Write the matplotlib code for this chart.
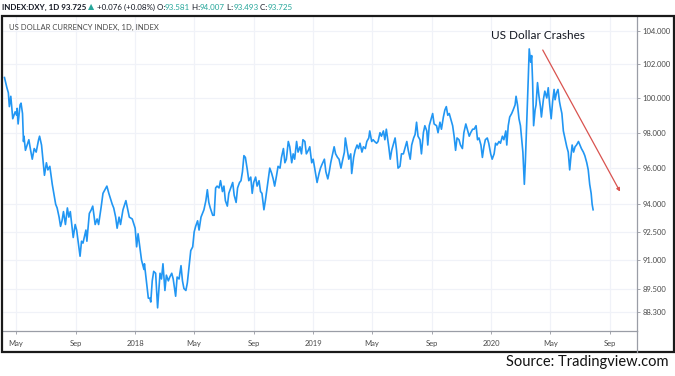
import matplotlib
matplotlib.use("Agg")
import matplotlib.pyplot as plt
import matplotlib.dates as mdates
from matplotlib.patches import Rectangle
import pandas as pd

# DXY daily closes (roughly every few sessions)
dates = [
    "2017-04-08", "2017-04-13", "2017-04-16", "2017-04-18", "2017-04-21", "2017-04-25", "2017-04-30",
    "2017-05-03", "2017-05-04", "2017-05-06", "2017-05-10", "2017-05-12", "2017-05-15", "2017-05-17",
    "2017-05-18", "2017-05-21", "2017-05-28", "2017-05-31", "2017-06-04", "2017-06-08", "2017-06-12",
    "2017-06-17", "2017-06-19", "2017-06-23", "2017-06-29", "2017-07-03", "2017-07-06", "2017-07-10",
    "2017-07-12", "2017-07-15", "2017-07-22", "2017-07-25", "2017-07-29", "2017-08-01", "2017-08-04",
    "2017-08-07", "2017-08-11", "2017-08-15", "2017-08-18", "2017-08-21", "2017-08-24", "2017-08-27",
    "2017-08-31", "2017-09-03", "2017-09-07", "2017-09-10", "2017-09-13", "2017-09-16", "2017-09-22",
    "2017-09-24", "2017-09-29", "2017-10-03", "2017-10-06", "2017-10-11", "2017-10-15", "2017-10-18",
    "2017-10-23", "2017-10-27", "2017-11-02", "2017-11-04", "2017-11-08", "2017-11-15", "2017-11-18",
    "2017-11-22", "2017-11-25", "2017-11-29", "2017-12-02", "2017-12-07", "2017-12-13", "2017-12-20",
    "2017-12-26", "2018-01-01", "2018-01-04", "2018-01-07", "2018-01-14", "2018-01-19", "2018-01-20",
    "2018-01-25", "2018-01-28",
    "2018-01-31", "2018-02-02", "2018-02-05", "2018-02-08", "2018-02-12", "2018-02-16", "2018-02-21",
    "2018-02-24", "2018-02-27", "2018-03-03", "2018-03-06", "2018-03-10", "2018-03-13", "2018-03-17",
    "2018-03-20", "2018-03-25", "2018-03-28", "2018-04-01", "2018-04-05", "2018-04-08", "2018-04-11",
    "2018-04-15", "2018-04-18", "2018-04-22", "2018-04-25", "2018-04-29", "2018-05-02", "2018-05-05",
    "2018-05-09", "2018-05-12", "2018-05-16", "2018-05-19", "2018-05-22", "2018-05-26", "2018-05-29",
    "2018-06-01", "2018-06-04", "2018-06-09", "2018-06-12", "2018-06-15", "2018-06-18", "2018-06-22",
    "2018-06-25", "2018-06-29", "2018-07-02", "2018-07-05", "2018-07-09", "2018-07-12", "2018-07-16",
    "2018-07-20", "2018-07-23", "2018-07-27", "2018-07-30", "2018-08-03", "2018-08-06", "2018-08-09",
    "2018-08-12", "2018-08-15", "2018-08-19", "2018-08-22", "2018-08-26", "2018-08-29", "2018-09-01",
    "2018-09-05", "2018-09-08", "2018-09-12", "2018-09-15", "2018-09-18", "2018-09-22", "2018-09-25",
    "2018-09-29", "2018-10-04", "2018-10-08", "2018-10-11", "2018-10-14", "2018-10-18", "2018-10-21",
    "2018-10-25", "2018-10-28", "2018-11-01", "2018-11-04", "2018-11-07", "2018-11-11", "2018-11-14",
    "2018-11-18", "2018-11-21", "2018-11-24",
    "2018-11-28", "2018-12-01", "2018-12-05", "2018-12-08", "2018-12-11", "2018-12-15", "2018-12-18",
    "2018-12-22", "2018-12-25", "2018-12-29", "2019-01-01", "2019-01-04", "2019-01-09", "2019-01-13",
    "2019-01-16", "2019-01-19", "2019-01-24", "2019-01-27", "2019-01-31", "2019-02-03", "2019-02-06",
    "2019-02-10", "2019-02-13", "2019-02-16", "2019-02-20", "2019-02-23", "2019-02-27", "2019-03-02",
    "2019-03-06", "2019-03-08", "2019-03-12", "2019-03-15", "2019-03-19", "2019-03-21", "2019-03-25",
    "2019-03-28", "2019-04-01", "2019-04-04", "2019-04-07", "2019-04-11", "2019-04-14", "2019-04-18",
    "2019-04-21", "2019-04-25", "2019-04-27", "2019-05-01", "2019-05-04", "2019-05-07", "2019-05-11",
    "2019-05-14", "2019-05-18", "2019-05-21", "2019-05-25", "2019-05-28", "2019-05-31", "2019-06-05",
    "2019-06-08", "2019-06-11", "2019-06-15", "2019-06-18", "2019-06-21", "2019-06-24", "2019-06-28",
    "2019-07-01", "2019-07-05", "2019-07-08", "2019-07-12", "2019-07-15", "2019-07-19", "2019-07-22",
    "2019-07-26", "2019-07-29", "2019-08-01", "2019-08-04", "2019-08-08", "2019-08-11", "2019-08-15",
    "2019-08-18", "2019-08-22", "2019-08-24", "2019-08-27", "2019-08-31", "2019-09-03", "2019-09-06",
    "2019-09-11", "2019-09-14", "2019-09-18", "2019-09-21", "2019-09-25", "2019-09-28", "2019-10-01",
    "2019-10-04", "2019-10-07", "2019-10-10", "2019-10-14", "2019-10-17", "2019-10-20", "2019-10-23",
    "2019-10-27", "2019-10-30", "2019-11-03", "2019-11-06", "2019-11-10", "2019-11-14", "2019-11-17",
    "2019-11-20", "2019-11-24", "2019-11-27", "2019-12-01", "2019-12-04", "2019-12-07", "2019-12-11",
    "2019-12-14", "2019-12-17", "2019-12-20", "2019-12-24", "2019-12-27", "2019-12-31", "2020-01-03",
    "2020-01-07", "2020-01-10", "2020-01-13", "2020-01-17", "2020-01-20", "2020-01-24", "2020-01-27",
    "2020-01-31", "2020-02-02", "2020-02-05", "2020-02-08", "2020-02-12", "2020-02-15", "2020-02-19",
    "2020-02-21", "2020-02-24", "2020-02-27", "2020-03-01", "2020-03-03", "2020-03-06", "2020-03-09",
    "2020-03-11", "2020-03-14", "2020-03-17", "2020-03-19", "2020-03-22", "2020-03-24", "2020-03-26",
    "2020-03-28", "2020-03-31", "2020-04-02", "2020-04-05", "2020-04-08", "2020-04-11", "2020-04-13",
    "2020-04-17", "2020-04-20", "2020-04-24", "2020-04-27", "2020-04-30", "2020-05-03", "2020-05-06",
    "2020-05-09", "2020-05-11", "2020-05-14", "2020-05-17", "2020-05-20", "2020-05-22", "2020-05-25",
    "2020-05-28", "2020-05-31", "2020-06-04", "2020-06-07", "2020-06-10", "2020-06-12", "2020-06-15",
    "2020-06-18", "2020-06-21", "2020-06-24", "2020-06-28", "2020-07-01", "2020-07-04", "2020-07-08",
    "2020-07-11", "2020-07-15", "2020-07-18", "2020-07-21", "2020-07-24", "2020-07-26", "2020-07-28",
]
values = [
    101.2, 100.6, 100.3, 99.5, 100.1, 98.8, 99.2,
    99.0, 99.4, 98.5, 99.6, 99.7, 99.1, 97.5,
    97.8, 97.0, 97.6, 97.1, 96.5, 97.1, 96.9,
    97.6, 97.8, 97.3, 95.6, 96.3, 95.9, 96.1,
    95.7, 95.1, 94.0, 93.8, 93.3, 92.8, 93.1,
    93.6, 92.9, 93.8, 93.3, 93.6, 92.9, 92.2,
    92.9, 92.6, 91.8, 91.2, 92.0, 91.9, 92.6,
    92.0, 93.5, 93.7, 93.9, 92.9, 93.2, 92.9,
    93.8, 94.6, 94.9, 95.0, 94.6, 94.0, 93.8,
    93.3, 92.7, 93.3, 92.9, 93.7, 94.2, 93.3,
    93.2, 92.7, 91.7, 92.4, 91.0, 90.5, 90.8,
    89.7, 89.0,
    89.0, 88.8, 89.9, 90.4, 90.3, 88.5, 90.3,
    90.0, 90.8, 89.4, 90.2, 89.9, 90.1, 90.3,
    90.0, 89.1, 90.1, 90.0, 90.7, 89.9, 89.5,
    89.4, 89.8, 90.8, 91.5, 91.7, 92.5, 92.8,
    93.1, 92.6, 93.3, 93.5, 93.7, 94.2, 94.8,
    94.1, 93.8, 93.4, 93.4, 94.9, 95.0, 94.9,
    95.3, 94.7, 95.0, 94.2, 93.9, 94.6, 94.9,
    95.2, 94.5, 94.1, 94.9, 95.2, 95.3, 95.8,
    96.7, 96.6, 95.9, 95.3, 95.5, 94.6, 95.2,
    95.5, 95.0, 95.3, 94.7, 94.6, 93.7, 94.2,
    95.0, 96.0, 95.7, 95.4, 95.0, 95.6, 96.1,
    96.0, 96.6, 97.1, 96.3, 96.5, 97.5, 97.2,
    96.3, 96.8, 96.5,
    97.5, 96.9, 97.2, 96.8, 97.6, 97.5, 96.8,
    97.0, 97.2, 96.3, 96.5, 96.0, 95.2, 95.7,
    96.0, 96.2, 96.5, 95.8, 95.4, 95.8, 96.3,
    96.8, 97.2, 96.8, 96.6, 96.5, 96.0, 96.4,
    96.9, 97.7, 97.0, 96.5, 96.8, 95.7, 96.6,
    97.0, 97.3, 97.1, 97.4, 96.9, 97.2, 97.1,
    97.5, 97.7, 98.1, 97.5, 97.6, 97.5, 97.4,
    97.5, 98.0, 97.8, 98.1, 97.6, 98.2, 97.2,
    96.5, 97.0, 97.4, 97.7, 97.0, 96.0, 96.1,
    96.8, 96.8, 97.1, 97.5, 97.0, 96.5, 97.3,
    97.7, 97.9, 98.6, 97.8, 97.6, 96.8, 98.0,
    98.4, 98.1, 97.3, 98.4, 98.8, 99.1, 98.5,
    98.4, 98.0, 98.6, 98.2, 98.9, 99.3, 99.5,
    99.0, 99.1, 98.8, 98.4, 97.8, 97.0, 97.7,
    97.6, 97.3, 97.1, 98.0, 98.5, 98.1, 97.8,
    98.0, 98.2, 98.2, 98.4, 97.6, 97.7, 97.3,
    96.6, 97.2, 97.6, 97.7, 97.4, 96.8, 96.5,
    96.8, 97.4, 97.3, 97.5, 97.4, 97.8, 97.6,
    98.1, 97.3, 98.4, 98.9, 99.1, 99.3, 99.6,
    100.1, 99.6, 98.8, 98.4, 97.8, 96.9, 95.1,
    96.3, 98.6, 101.1, 102.9, 102.1, 102.5, 100.9,
    98.4, 99.3, 99.6, 100.9, 100.1, 99.5, 98.9,
    99.9, 100.4, 100.0, 100.6, 99.6, 98.8, 99.8,
    100.5, 99.9, 100.3, 100.5, 99.8, 99.5, 99.1,
    98.1, 97.7, 97.2, 96.9, 95.9, 96.5, 97.3,
    96.9, 97.2, 97.3, 97.5, 97.3, 97.1, 96.9,
    96.7, 96.3, 95.9, 95.1, 94.6, 94.0, 93.7,
]

y_ticks = [88.3, 89.5, 91.0, 92.5, 94.0, 96.0, 98.0, 100.0, 102.0, 104.0]
x_ticks = ["2017-05-01", "2017-09-01", "2018-01-01", "2018-05-01", "2018-09-01", "2019-01-01",
           "2019-05-01", "2019-09-01", "2020-01-01", "2020-05-01", "2020-09-01"]
x_labels = ["May", "Sep", "2018", "May", "Sep", "2019", "May", "Sep", "2020", "May", "Sep"]

header_parts = [
    ("INDEX:DXY, 1D 93.725 ", "#131722"),
    ("\u25b2", "#26a69a"),
    (" +0.076 (+0.08%) O:", "#131722"),
    ("93.581", "#26a69a"),
    (" H:", "#131722"),
    ("94.007", "#26a69a"),
    (" L:", "#131722"),
    ("93.493", "#26a69a"),
    (" C:", "#131722"),
    ("93.725", "#26a69a"),
]

W, H = 675, 376
plt.rcParams["font.family"] = ["Lato", "DejaVu Sans"]
fig = plt.figure(figsize=(W / 100, H / 100), dpi=100)
fig.patch.set_facecolor("white")

ax = fig.add_axes([3 / W, (H - 330.7) / H, (637 - 3) / W, (330.7 - 16) / H])
x = pd.to_datetime(dates)
ax.plot(x, values, color="#2196f3", linewidth=1.2, solid_joinstyle="round")

ax.set_yscale("log")
ax.set_ylim(87.33, 104.89)
ax.set_xlim(pd.Timestamp("2017-04-05"), pd.Timestamp("2020-10-26"))

ax.yaxis.tick_right()
ax.set_yticks(y_ticks)
ax.set_yticks([], minor=True)
ax.set_yticklabels([f"{v:.3f}" for v in y_ticks])
ax.set_xticks(pd.to_datetime(x_ticks))
ax.set_xticklabels(x_labels)
ax.tick_params(axis="both", labelsize=5.5, labelcolor="#4a4a4a", color="#9598a1",
               length=2, width=0.6, pad=2)
ax.tick_params(axis="x", pad=5)
ax.grid(True, color="#f0f2f8", linewidth=0.9)
ax.set_axisbelow(True)
for side in ["left", "top"]:
    ax.spines[side].set_visible(False)
for side in ["right", "bottom"]:
    ax.spines[side].set_color("#9a9da6")
    ax.spines[side].set_linewidth(0.9)

ax.text(0.01, 0.965, "US DOLLAR CURRENCY INDEX, 1D, INDEX", transform=ax.transAxes,
        fontsize=5.5, color="#4a4a4a", va="center", ha="left")

# annotation: arrow and label
ax.annotate("", xy=(pd.Timestamp("2020-09-24"), 94.56), xytext=(pd.Timestamp("2020-04-13"), 102.98),
            arrowprops=dict(arrowstyle="-|>", color="#d9534f", lw=0.9, mutation_scale=5))
fig.text(538 / W, 1 - 35.5 / H, "US Dollar Crashes", fontsize=8.5, color="#131722",
         ha="center", va="center")

# vertical line below the price scale divider, and outer frame
fig.add_artist(plt.Line2D([637 / W, 637 / W], [(H - 352) / H, (H - 330.7) / H],
                          color="#9a9da6", linewidth=0.9))
fig.add_artist(Rectangle((1.5 / W, (H - 352) / H), 672 / W, 336 / H, transform=fig.transFigure,
                         fill=False, edgecolor="#1a1a1a", linewidth=1.6))

# header with multi-coloured values
renderer = fig.canvas.get_renderer()
xpos = 2 / W
for txt, col in header_parts:
    t = fig.text(xpos, 1 - 7 / H, txt, fontsize=5.8, color=col, va="center", ha="left",
                 fontweight="bold" if txt.startswith("INDEX") else "normal")
    bb = t.get_window_extent(renderer=renderer)
    xpos = bb.x1 / W

fig.text(669 / W, 1 - 362 / H, "Source: Tradingview.com", fontsize=10.5, color="#111111",
         ha="right", va="center")

fig.savefig("out.png", dpi=100)
